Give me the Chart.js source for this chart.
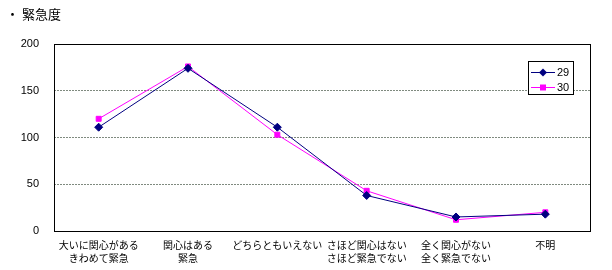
<!DOCTYPE html>
<html>
<head>
<meta charset="utf-8">
<script src="https://cdn.jsdelivr.net/npm/chart.js@4"></script>
<style>
  html, body { margin: 0; padding: 0; background: #fff; }
  #wrap { width: 612px; height: 270px; position: relative; }
</style>
</head>
<body>
<div id="wrap"><canvas id="c"></canvas></div>
<script>
const title = '・ 緊急度';
const categories = [
  ['大いに関心がある', 'きわめて緊急'],
  ['関心はある', '緊急'],
  'どちらともいえない',
  ['さほど関心はない', 'さほど緊急でない'],
  ['全く関心がない', '全く緊急でない'],
  '不明'
];
const seriesNames = ['29', '30'];
const values29 = [111, 174, 111, 38, 15, 18];
const values30 = [120, 176, 103, 43, 12, 20];
const yTicks = [0, 50, 100, 150, 200];

const jp = '"Noto Sans CJK JP", sans-serif';

// frame, title and legend box drawn like the original
const decor = {
  id: 'decor',
  beforeDatasetsDraw(chart) {
    const { ctx, chartArea: a } = chart;
    ctx.save();
    ctx.strokeStyle = '#000';
    ctx.lineWidth = 1;
    ctx.strokeRect(Math.round(a.left) + 0.5, Math.round(a.top) + 0.5,
      Math.round(a.right - a.left), Math.round(a.bottom - a.top));
    ctx.restore();
  },
  afterDraw(chart) {
    const { ctx } = chart;
    ctx.save();
    ctx.fillStyle = '#000';
    ctx.font = '13px ' + jp;
    ctx.textBaseline = 'middle';
    ctx.fillText(title, 6, 14);

    // legend
    const bx = 528.5, by = 61.5, bw = 45, bh = 33;
    ctx.fillStyle = '#fff';
    ctx.fillRect(bx, by, bw, bh);
    ctx.strokeStyle = '#000';
    ctx.strokeRect(bx, by, bw, bh);
    chart.data.datasets.forEach((ds, i) => {
      const y = 72.5 + i * 15;
      ctx.strokeStyle = ds.borderColor;
      ctx.beginPath();
      ctx.moveTo(531, y);
      ctx.lineTo(555, y);
      ctx.stroke();
      ctx.fillStyle = ds.backgroundColor;
      ctx.beginPath();
      if (ds.pointStyle === 'rectRot') {
        ctx.moveTo(543, y - 4); ctx.lineTo(547, y); ctx.lineTo(543, y + 4); ctx.lineTo(539, y);
      } else {
        ctx.rect(540, y - 3, 6, 6);
      }
      ctx.fill();
      ctx.fillStyle = '#000';
      ctx.font = '11px "Liberation Sans", Arial, sans-serif';
      ctx.textBaseline = 'middle';
      ctx.fillText(ds.label, 557, y + 0.5);
    });
    ctx.restore();
  }
};

new Chart(document.getElementById('c'), {
  type: 'line',
  data: {
    labels: categories,
    datasets: [
      {
        label: seriesNames[0],
        data: values29,
        borderColor: '#000080',
        backgroundColor: '#000080',
        borderWidth: 1,
        pointStyle: 'rectRot',
        pointRadius: 4,
        pointHoverRadius: 4,
        tension: 0
      },
      {
        label: seriesNames[1],
        data: values30,
        borderColor: '#ff00ff',
        backgroundColor: '#ff00ff',
        borderWidth: 1,
        pointStyle: 'rect',
        pointRadius: 3.5,
        pointHoverRadius: 3.5,
        tension: 0
      }
    ]
  },
  options: {
    responsive: true,
    maintainAspectRatio: false,
    animation: false,
    layout: { padding: { top: 44, right: 22, left: 0, bottom: 0 } },
    plugins: {
      legend: { display: false },
      title: { display: false },
      tooltip: { enabled: false }
    },
    scales: {
      x: {
        offset: true,
        grid: { display: false },
        border: { display: false },
        afterFit(s) { s.height = 39; },
        ticks: {
          color: '#000',
          padding: 0,
          maxRotation: 0,
          autoSkip: false,
          font: { family: jp, size: 10, lineHeight: 1.3 }
        }
      },
      y: {
        min: 0,
        max: 200,
        afterFit(s) { s.width = 54; },
        afterBuildTicks(s) { s.ticks = yTicks.map(v => ({ value: v })); },
        grid: {
          drawTicks: false,
          color: ctx => (ctx.tick && (ctx.tick.value === 0 || ctx.tick.value === 200)) ? 'rgba(0,0,0,0)' : '#7f8a7f',
          lineWidth: 1
        },
        border: { display: false, dash: [2, 1] },
        ticks: {
          color: '#000',
          padding: 15,
          font: { family: '"Liberation Sans", Arial, sans-serif', size: 11 }
        }
      }
    }
  },
  plugins: [decor]
});
</script>
</body>
</html>
